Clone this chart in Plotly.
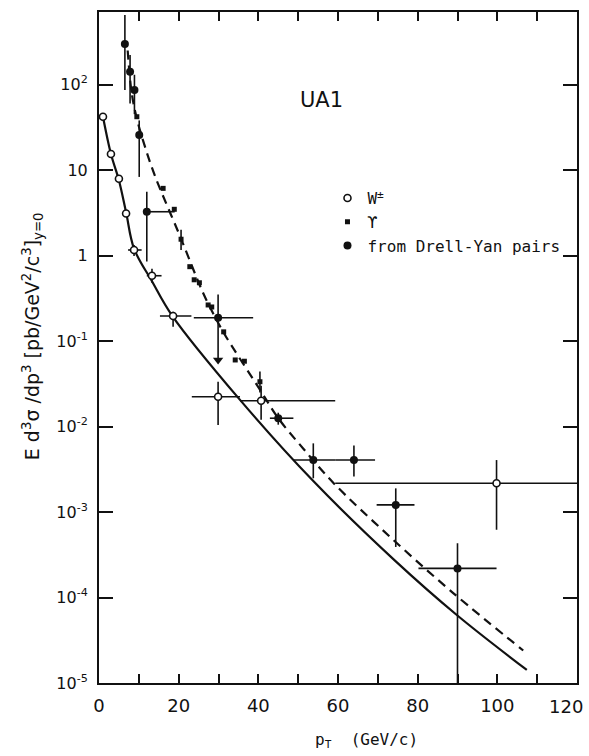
import plotly.graph_objects as go

# ---- W± production (open circles) ----
w_pt = [1.0, 3.0, 5.0, 6.8, 8.8, 13.3, 18.6, 29.9, 40.7, 99.8]
w_val = [42, 15.4, 7.9, 3.1, 1.16, 0.58, 0.196, 0.0223, 0.0200, 0.00217]
w_pt_lo = [1.0, 3.0, 5.0, 6.8, 7.3, 12.0, 15.3, 23.3, 35.4, 59.3]
w_pt_hi = [1.0, 3.0, 5.0, 6.8, 10.7, 15.7, 23.2, 35.4, 59.3, 120.0]
w_val_lo = [42, 15.4, 7.9, 3.1, 0.99, 0.48, 0.147, 0.0104, 0.0120, 0.00062]
w_val_hi = [42, 15.4, 7.9, 3.1, 1.33, 0.70, 0.220, 0.0334, 0.0300, 0.00405]

# ---- Upsilon production (small filled squares) ----
u_pt = [9.5, 16.1, 18.9, 20.6, 22.8, 23.9, 25.2, 27.4, 28.3, 31.3, 34.2, 36.5, 40.4]
u_val = [42, 6.1, 3.47, 1.55, 0.74, 0.52, 0.48, 0.264, 0.25, 0.128, 0.060, 0.058, 0.0334]
u_val_lo = [42, 6.1, 3.47, 1.16, 0.74, 0.52, 0.48, 0.264, 0.25, 0.128, 0.060, 0.058, 0.025]
u_val_hi = [42, 6.1, 3.47, 2.00, 0.74, 0.52, 0.48, 0.264, 0.25, 0.128, 0.060, 0.058, 0.044]

# ---- from Drell-Yan pairs (filled circles) ----
dy_pt = [6.5, 7.8, 8.9, 10.1, 12.0, 29.9, 45.0, 53.8, 64.0, 74.5, 90.0]
dy_val = [298, 141, 86, 25.7, 3.25, 0.187, 0.0125, 0.00405, 0.00405, 0.00121, 0.000219]
dy_pt_lo = [6.5, 7.8, 8.9, 10.1, 12.0, 23.8, 42.9, 48.8, 59.3, 69.7, 80.2]
dy_pt_hi = [6.5, 7.8, 8.9, 10.1, 19.0, 38.7, 48.8, 59.3, 69.3, 79.2, 99.8]
dy_val_lo = [86, 60, 45, 8.3, 0.85, 0.060, 0.0105, 0.00248, 0.0026, 0.00039, 1e-7]
dy_val_hi = [650, 221, 130, 38, 5.57, 0.35, 0.0145, 0.00635, 0.0060, 0.00189, 0.00043]

# upper-limit arrow tip for the 30 GeV point
lim_pt = [29.9]
lim_val = [0.060]

# ---- QCD predictions ----
w_curve_pt = [1.0, 3.0, 5.0, 6.8, 8.8, 13.3, 18.3, 35.4, 53.8, 74.3, 89.9, 107.4]
w_curve_val = [42, 15.4, 7.6, 3.2, 1.2, 0.50, 0.20, 0.0205, 0.0023, 0.00027, 0.000062,
               0.0000142]

u_curve_pt = [7.2, 8.2, 9.5, 11.5, 14.1, 20.3, 26.2, 29.7, 32.0, 40.4, 45.0, 51.3, 58.8,
              73.1, 89.0, 106.5]
u_curve_val = [250, 80, 40, 19, 8.4, 1.7, 0.36, 0.17, 0.11, 0.027, 0.0125, 0.0055, 0.0022,
               0.00051, 0.000112, 0.000024]

y_tickvals = [1e-5, 1e-4, 1e-3, 1e-2, 1e-1, 1, 10, 100]
y_ticktext = ["10<sup>-5</sup>", "10<sup>-4</sup>", "10<sup>-3</sup>", "10<sup>-2</sup>",
              "10<sup>-1</sup>", "1", "10", "10<sup>2</sup>"]
x_tickvals = list(range(0, 121, 10))
x_last = 120
# the last label sits against the frame edge, so it is drawn flush-right below
x_ticktext = [str(v) if (v % 20 == 0 and v != x_last) else "" for v in x_tickvals]

NARROW = "Liberation Sans Narrow, DejaVu Sans, sans-serif"
WIDE = "DejaVu Sans, Liberation Sans, sans-serif"
MONO = "DejaVu Sans Mono, Liberation Mono, monospace"
INK = "#111111"


def errs(val, lo, hi):
    return [h - v for v, h in zip(val, hi)], [v - l for v, l in zip(val, lo)]


fig = go.Figure()

fig.add_trace(go.Scatter(
    x=w_curve_pt, y=w_curve_val, mode="lines", showlegend=False, hoverinfo="skip",
    line=dict(color=INK, width=2.2, shape="spline", smoothing=1.0)))
fig.add_trace(go.Scatter(
    x=u_curve_pt, y=u_curve_val, mode="lines", showlegend=False, hoverinfo="skip",
    line=dict(color=INK, width=2.2, dash="9px,6px", shape="spline", smoothing=1.0)))

wy_p, wy_m = errs(w_val, w_val_lo, w_val_hi)
wx_p, wx_m = errs(w_pt, w_pt_lo, w_pt_hi)
fig.add_trace(go.Scatter(
    x=w_pt, y=w_val, mode="markers", name="W<sup>±</sup>",
    marker=dict(symbol="circle", size=7, color="white", line=dict(color=INK, width=1.6)),
    error_y=dict(type="data", array=wy_p, arrayminus=wy_m, color=INK, thickness=1.6, width=0),
    error_x=dict(type="data", array=wx_p, arrayminus=wx_m, color=INK, thickness=1.6, width=0)))

uy_p, uy_m = errs(u_val, u_val_lo, u_val_hi)
fig.add_trace(go.Scatter(
    x=u_pt, y=u_val, mode="markers", name="ϒ",
    marker=dict(symbol="square", size=5, color=INK),
    error_y=dict(type="data", array=uy_p, arrayminus=uy_m, color=INK, thickness=1.6, width=0)))

dy_p, dy_m = errs(dy_val, dy_val_lo, dy_val_hi)
dx_p, dx_m = errs(dy_pt, dy_pt_lo, dy_pt_hi)
fig.add_trace(go.Scatter(
    x=dy_pt, y=dy_val, mode="markers", name="from Drell-Yan pairs",
    marker=dict(symbol="circle", size=8, color=INK),
    error_y=dict(type="data", array=dy_p, arrayminus=dy_m, color=INK, thickness=1.6, width=0),
    error_x=dict(type="data", array=dx_p, arrayminus=dx_m, color=INK, thickness=1.6, width=0)))

fig.add_trace(go.Scatter(
    x=lim_pt, y=lim_val, mode="markers", showlegend=False, hoverinfo="skip",
    marker=dict(symbol="triangle-down", size=9, color=INK)))

axis_common = dict(showline=True, linecolor=INK, linewidth=2, mirror="ticks",
                   ticks="inside", tickcolor=INK, tickwidth=2, showgrid=False,
                   zeroline=False, ticklabeloverflow="allow", automargin=False)

TICK_FONT_X = dict(family=NARROW, size=18, color=INK)
fig.update_xaxes(range=[0, 120], tickmode="array", tickvals=x_tickvals,
                 ticktext=x_ticktext, ticklen=9, ticklabelstandoff=5,
                 tickfont=TICK_FONT_X, **axis_common)
fig.update_yaxes(type="log", range=[-5, 2.848], tickmode="array", tickvals=y_tickvals,
                 ticktext=y_ticktext, ticklen=14, ticklabelstandoff=6,
                 tickfont=dict(family=NARROW, size=16, color=INK), **axis_common)

fig.add_annotation(text=str(x_last), xref="x", yref="paper", x=x_last, y=0,
                   xanchor="right", yanchor="top", xshift=8, yshift=-11,
                   showarrow=False, font=TICK_FONT_X)
fig.add_annotation(text="UA1", xref="paper", yref="paper", x=0.465, y=0.869,
                   xanchor="center", yanchor="middle", showarrow=False,
                   font=dict(family=WIDE, size=21, color=INK))
fig.add_annotation(text="p<sub>T</sub>  (GeV/c)", xref="paper", yref="paper",
                   x=0.56, y=-0.085, xanchor="center", yanchor="middle", showarrow=False,
                   font=dict(family=MONO, size=16, color=INK))
fig.add_annotation(text="E d<sup>3</sup>σ /dp<sup>3</sup> [pb/GeV<sup>2</sup>/c<sup>3</sup>]<sub>y=0</sub>",
                   xref="paper", yref="paper", x=-0.14, y=0.517, textangle=-90,
                   xanchor="center", yanchor="middle", showarrow=False,
                   font=dict(family=WIDE, size=19, color=INK))

fig.update_layout(
    width=589, height=756,
    margin=dict(l=99, r=12, t=12, b=73, autoexpand=False),
    paper_bgcolor="white", plot_bgcolor="white",
    font=dict(family=WIDE, color=INK),
    legend=dict(x=0.478, y=0.748, xanchor="left", yanchor="top",
                bgcolor="rgba(0,0,0,0)", font=dict(family=MONO, size=16, color=INK),
                itemwidth=30, tracegroupgap=0),
)

fig.write_html("out.html")
